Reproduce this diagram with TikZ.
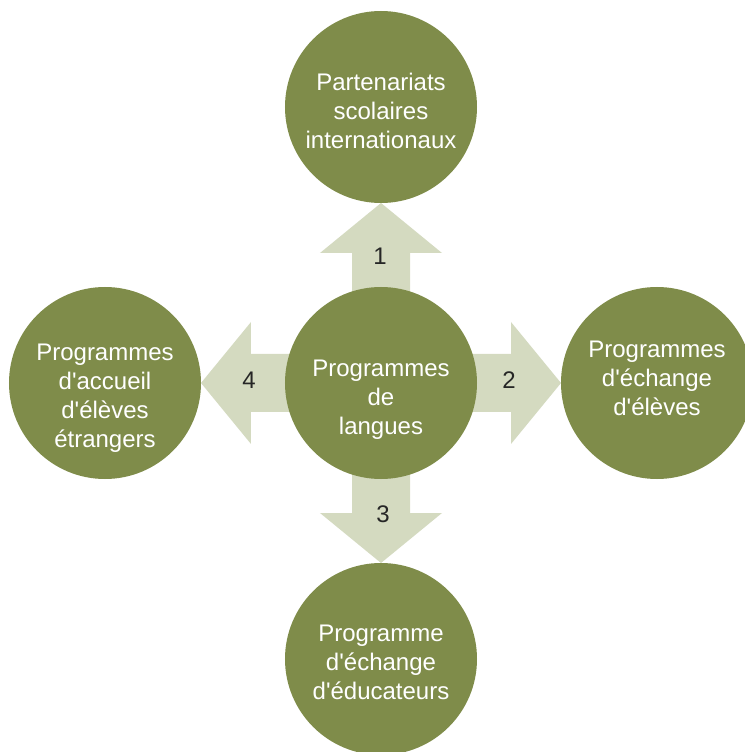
\documentclass[tikz,border=0pt]{standalone}
\usepackage{fontspec}
\setmainfont{Liberation Sans}
\usetikzlibrary{positioning}
\definecolor{bubblegreen}{RGB}{127,140,74}
\definecolor{arrowsage}{RGB}{212,218,192}
\definecolor{numgray}{RGB}{38,38,38}
\tikzset{%
   bubble/.style={circle, inner sep=0mm, outer sep=0mm, minimum size=192pt, fill=bubblegreen},
   txt/.style={align=center, inner sep=0mm, text=white, font=\fontsize{24}{29}\selectfont},
   num/.style={inner sep=0mm, text=numgray, font=\fontsize{24}{29}\selectfont},
}
\newcommand\ap{\textquotesingle}
\newcommand\bigarrow[1]{%
  \fill[arrowsage, rotate=#1] (60,-29) -- (130,-29) -- (130,-61) -- (180,0) -- (130,61) -- (130,29) -- (60,29) -- cycle;%
}
\begin{document}
\begin{tikzpicture}[x=1pt, y=1pt]
   \useasboundingbox (-381,-369) rectangle (363,383);
   \bigarrow{90}
   \bigarrow{0}
   \bigarrow{270}
   \bigarrow{180}
   \node[bubble] (lang) at (0,0) {};
   \node[bubble, above=84pt of lang] (part) {};
   \node[bubble, right=84pt of lang] (echel) {};
   \node[bubble, below=84pt of lang] (educ) {};
   \node[bubble, left=84pt of lang] (accu) {};
   \node[txt] (langt) at ([yshift=-17pt]lang.center) {Programmes\\de\\langues};
   \node[txt] (partt) at ([yshift=-4pt]part.center) {Partenariats\\scolaires\\internationaux};
   \node[txt] (echelt) at ([yshift=5pt]echel.center) {Programmes\\d\ap échange\\d\ap élèves};
   \node[txt] (educt) at ([yshift=-3.5pt]educ.center) {Programme\\d\ap échange\\d\ap éducateurs};
   \node[txt] (accut) at ([yshift=-15.5pt]accu.center) {Programmes\\d\ap accueil\\d\ap élèves\\étrangers};
   \node[num] (n1) at (-1,127) {1};
   \node[num] (n2) at (128,3) {2};
   \node[num] (n3) at (2,-131) {3};
   \node[num] (n4) at (-132,3) {4};
\end{tikzpicture}
\end{document}
